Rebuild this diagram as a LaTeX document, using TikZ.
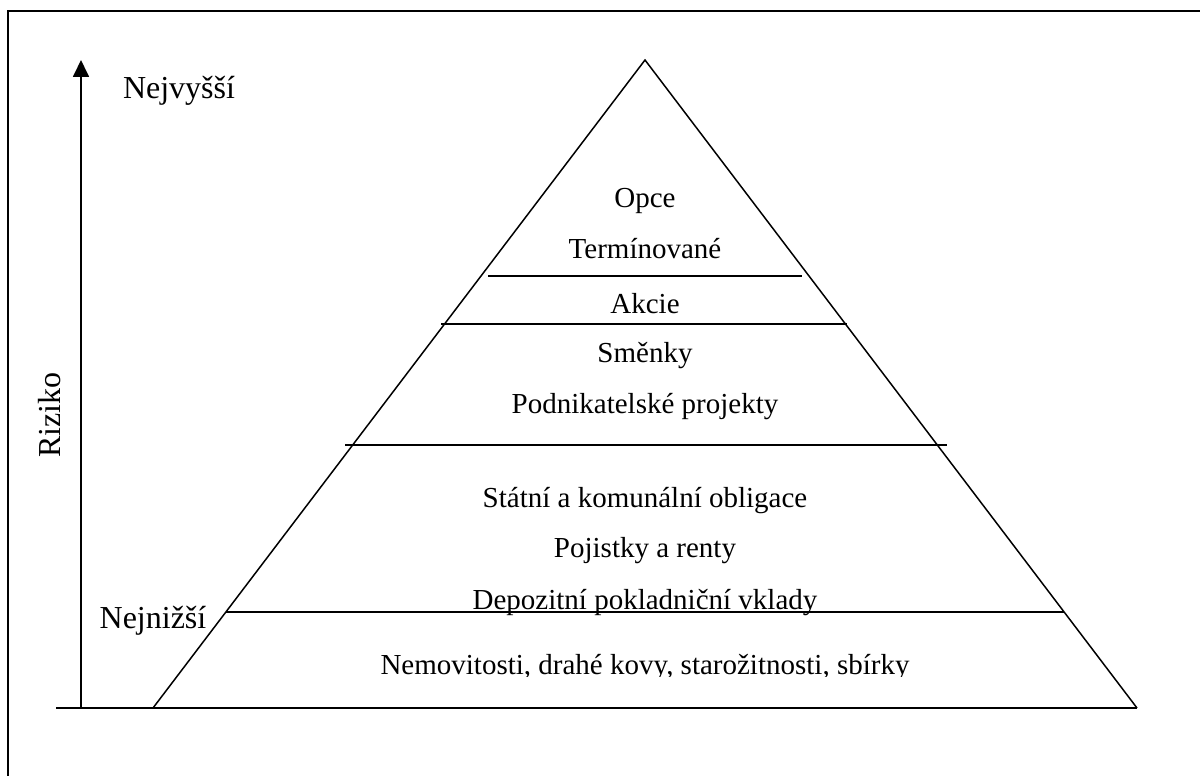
\documentclass[tikz,border=0pt]{standalone}
\usepackage{fontspec}
\setmainfont{Liberation Serif}
\usetikzlibrary{arrows.meta}
\begin{document}
\begin{tikzpicture}[x=1pt,y=-1pt,
  edge/.style={line width=1.5pt, line join=miter},
  tier/.style={line width=1.8pt},
  item/.style={inner sep=0pt, anchor=base, font=\fontsize{29}{34}\selectfont},
  side/.style={inner sep=0pt, anchor=base, font=\fontsize{32}{38}\selectfont}]
\useasboundingbox (0,0) rectangle (1200,776);
\fill[white] (0,0) rectangle (1200,776);
% outer frame (top and left edges)
\draw[line width=2pt] (1200,11) -- (8,11) -- (8,776);

% pyramid and axes
\coordinate (apex) at (645,60);
\coordinate (bl) at (153,708);
\coordinate (br) at (1137,708);
\coordinate (axisL) at (56,708);
\coordinate (axisO) at (81,708);
\coordinate (axisT) at (81,60);
\draw[edge] (bl) -- (apex) -- (br);
\draw[tier] (axisL) -- (br);
\draw[line width=1.8pt, -{Triangle[width=16pt,length=17pt]}] (axisO) -- (axisT);

% tier separators
\coordinate (t1a) at (488,276); \coordinate (t1b) at (802,276);
\coordinate (t2a) at (441,324); \coordinate (t2b) at (847,324);
\coordinate (t3a) at (345,445); \coordinate (t3b) at (947,445);
\coordinate (t4a) at (226,612); \coordinate (t4b) at (1064,612);
\draw[tier] (t1a) -- (t1b);
\draw[tier] (t2a) -- (t2b);
\draw[tier] (t3a) -- (t3b);
\draw[tier] (t4a) -- (t4b);

% tier contents
\node[item] (opce) at (645,207) {Opce};
\node[item] (term) at (645,258) {Termínované};
\node[item] (akcie) at (645,313) {Akcie};
\node[item] (smenky) at (645,362) {Směnky};
\node[item] (podn) at (645,413) {Podnikatelské projekty};
\node[item] (statni) at (645,507) {Státní a komunální obligace};
\node[item] (pojist) at (645,557) {Pojistky a renty};
\node[item] (depoz) at (645,609) {Depozitní pokladniční vklady};
\begin{scope}
  \clip (200,620) rectangle (1100,676);
  \node[item] (nemov) at (645,674) {Nemovitosti, drahé kovy, starožitnosti, sbírky};
\end{scope}

% axis labels
\node[side] (hi) at (179,99) {Nejvyšší};
\node[side] (lo) at (153,628) {Nejnižší};
\node[side, rotate=90] (risk) at (60,415) {Riziko};
\end{tikzpicture}
\end{document}
